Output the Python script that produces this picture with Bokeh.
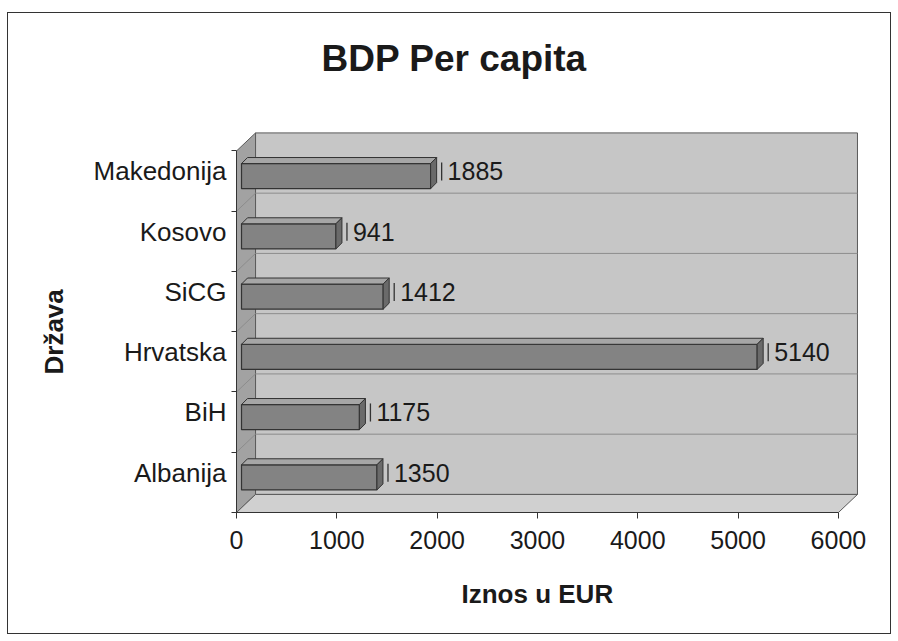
from bokeh.plotting import figure
from bokeh.models import FixedTicker, Range1d, Label, Title
from bokeh.core.properties import value
from bokeh.embed import file_html
from bokeh.resources import INLINE

# ---- data (bottom to top) ----
countries = ["Albanija", "BiH", "Hrvatska", "SiCG", "Kosovo", "Makedonija"]
gdp = [1350, 1175, 5140, 1412, 941, 1885]
x_ticks = [0, 1000, 2000, 3000, 4000, 5000, 6000]
title_text = "BDP Per capita"
x_title = "Iznos u EUR"
y_title = "Država"

FONT = "Liberation Sans"

# ---- geometry (pixels -> data units) ----
W, H = 884, 622                # outer box incl. 1px border
CW, CH = W - 2, H - 2          # canvas
ML, MR, MT, MB = 228, 30, 20, 123
PX = 10.0          # data units per px (x)
PY = 1.0 / 60.0    # data units per px (y)
fw = CW - ML - MR
fh = CH - MT - MB
n = len(countries)
xmax = x_ticks[-1]
y0 = -0.5
ytop = n - 0.5
DX, DY = 19 * PX, 18 * PY          # wall depth
BOX, BOY = 5 * PX, 5 * PY          # bar depth position
DDX, DDY = 6 * PX, 6 * PY          # bar thickness (depth)
HALF = 12.5 * PY                   # bar half height
LBL = 0.16                         # label lift above category centre

p = figure(width=W, height=H, x_range=Range1d(0, fw * PX), y_range=Range1d(y0, y0 + fh * PY),
           output_backend="svg", toolbar_location=None,
           min_border_left=ML, min_border_right=MR, min_border_top=MT, min_border_bottom=MB)
p.styles = {"border": "1px solid #333", "margin-left": "7px", "margin-top": "12px",
            "box-sizing": "border-box"}
p.xgrid.visible = False
p.ygrid.visible = False
p.outline_line_color = None
p.background_fill_color = "white"
p.border_fill_color = "white"

# walls
p.patch([0, DX, DX, 0], [y0, y0 + DY, ytop + DY, ytop], fill_color="#a2a2a2",
        line_color="#5a5a5a", line_width=1)
p.quad(left=[DX], right=[xmax + DX], bottom=[y0 + DY], top=[ytop + DY],
       fill_color="#c6c6c6", line_color="#5a5a5a", line_width=1)
p.patch([0, xmax, xmax + DX, DX], [y0, y0, y0 + DY, y0 + DY], fill_color="#d0d0d0",
        line_color="#5a5a5a", line_width=1)

# gridlines at category boundaries
bnds = [k + 0.5 for k in range(n - 1)]
p.segment(x0=[DX] * len(bnds), x1=[xmax + DX] * len(bnds),
          y0=[b + DY for b in bnds], y1=[b + DY for b in bnds],
          line_color="#8c8c8c", line_width=1)
p.segment(x0=[0] * len(bnds), x1=[DX] * len(bnds),
          y0=bnds, y1=[b + DY for b in bnds], line_color="#8c8c8c", line_width=1)

# bars
idx = list(range(n))
lefts = [BOX] * n
rights = [v + BOX for v in gdp]
bots = [i + BOY - HALF for i in idx]
tops = [i + BOY + HALF for i in idx]
p.quad(left=lefts, right=rights, bottom=bots, top=tops,
       fill_color="#838383", line_color="#333333", line_width=1.2)
p.patches([[l, r, r + DDX, l + DDX] for l, r in zip(lefts, rights)],
          [[t, t, t + DDY, t + DDY] for t in tops],
          fill_color="#a6a6a6", line_color="#333333", line_width=1)
p.patches([[r, r + DDX, r + DDX, r] for r in rights],
          [[b, b + DDY, t + DDY, t] for b, t in zip(bots, tops)],
          fill_color="#6a6a6a", line_color="#333333", line_width=1)

# leader marks and value labels
p.segment(x0=[v + 160 for v in gdp], x1=[v + 160 for v in gdp],
          y0=[i + LBL - 0.15 for i in idx], y1=[i + LBL + 0.15 for i in idx],
          line_color="#333333", line_width=1.3)
p.text(x=gdp, y=[i + LBL for i in idx], text=[str(v) for v in gdp], x_offset=22,
       text_baseline="middle", text_align="left", text_font=value(FONT),
       text_font_size="25px", text_color="#1a1a1a")

# x axis
p.xaxis.ticker = FixedTicker(ticks=x_ticks)
p.xaxis.bounds = (0, xmax)
p.xaxis.axis_line_color = "#333333"
p.xaxis.major_tick_line_color = "#333333"
p.xaxis.major_tick_out = 6
p.xaxis.major_tick_in = 0
p.xaxis.minor_tick_line_color = None
p.xaxis.major_label_standoff = 12
p.xaxis.major_label_text_font = FONT
p.xaxis.major_label_text_font_size = "25px"
p.xaxis.major_label_text_color = "#1a1a1a"

# y axis
ytick_pos = [i + LBL for i in idx]
p.yaxis.ticker = FixedTicker(ticks=ytick_pos, minor_ticks=[k - 0.5 for k in range(n + 1)])
p.yaxis.major_label_overrides = {t: c for t, c in zip(ytick_pos, countries)}
p.yaxis.bounds = (y0, ytop)
p.yaxis.axis_line_color = "#333333"
p.yaxis.major_tick_out = 0
p.yaxis.major_tick_in = 0
p.yaxis.minor_tick_out = 5
p.yaxis.minor_tick_in = 0
p.yaxis.minor_tick_line_color = "#333333"
p.yaxis.major_label_standoff = 5
p.yaxis.major_label_text_font = FONT
p.yaxis.major_label_text_font_size = "26px"
p.yaxis.major_label_text_color = "#1a1a1a"

# axis titles as side titles (positioned with offsets)
xt = Title(text=x_title, align="left", offset=225, standoff=50,
           text_font=FONT, text_font_size="26px", text_font_style="bold", text_color="#1a1a1a")
p.add_layout(xt, "below")
yt = Title(text=y_title, align="left", offset=138, standoff=43,
           text_font=FONT, text_font_size="26px", text_font_style="bold", text_color="#1a1a1a")
p.add_layout(yt, "left")

# main title inside the frame area
p.add_layout(Label(x=(445 - ML) * PX, y=y0 + (fh - (45 - MT)) * PY, text=title_text,
                   text_align="center", text_baseline="middle", text_font=FONT,
                   text_font_size="37px", text_font_style="bold", text_color="#1a1a1a"))

open("out.html", "w").write(file_html(p, INLINE))
